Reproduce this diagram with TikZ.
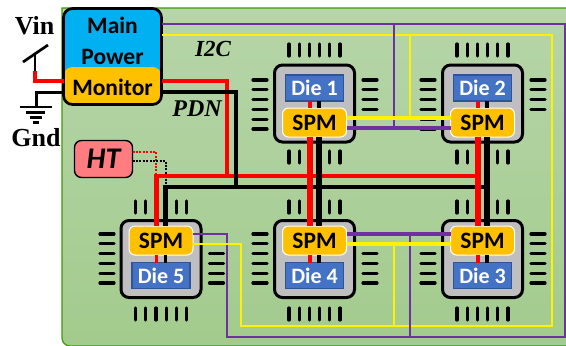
\documentclass[tikz,border=0pt]{standalone}
\usepackage{fontspec}
\setmainfont{Liberation Serif}
\newfontfamily\calibri{Carlito}
\tikzset{
  board/.style={draw=green!45!black!70!lime,line width=1.2pt,top color=boardtop,bottom color=boardbot},
  pin/.style={line width=3.2pt,line cap=round},
  chip/.style={draw,line width=3pt,fill=chipgray,rounded corners=8pt,minimum width=80pt,minimum height=77pt,inner sep=0pt,outer sep=0pt},
  dienode/.style={draw=dieedge,line width=1.4pt,fill=dieblue,text=white,minimum width=58pt,minimum height=26pt,inner sep=0pt,outer sep=0pt,font=\calibri\bfseries\fontsize{22}{24}\selectfont},
  spmnode/.style={draw=white,line width=1pt,fill=spmorange,rounded corners=6pt,minimum width=64pt,minimum height=29pt,inner sep=0pt,outer sep=0pt,font=\calibri\bfseries\fontsize{23.5}{26}\selectfont},
  vddfat/.style={red,line width=5.4pt},
  gndfat/.style={black,line width=5.4pt},
  vddthin/.style={red,line width=3.2pt},
  gndthin/.style={black,line width=3.2pt},
  vddbus/.style={red,line width=3.8pt},
  gndbus/.style={black,line width=3.8pt},
  sda/.style={draw=sdapurple,line width=2.7pt},
  scl/.style={draw=yellow,line width=2.7pt},
  sdafat/.style={sda,line width=4.2pt},
  sclfat/.style={scl,line width=4.2pt},
  probe/.style={line width=1.6pt,dash pattern=on 2pt off 1.4pt},
  pics/vpins/.style={
    code={
      \foreach \k in {#1} {
        \draw[pin] (10.2*\k-25.5,0) -- +(0,12);
      }
    }
  },
  pics/hpins/.style={
    code={
      \foreach \k in {#1} {
        \draw[pin] (0,9.8*\k) -- +(14,0);
      }
    }
  },
}
\definecolor{boardtop}{HTML}{B6D5A9}
\definecolor{boardbot}{HTML}{A3CB8D}
\definecolor{chipgray}{HTML}{BFBFBF}
\definecolor{dieblue}{HTML}{4472C4}
\definecolor{dieedge}{HTML}{2F5597}
\definecolor{spmorange}{HTML}{FFC000}
\definecolor{mainblue}{HTML}{00B0F0}
\definecolor{htpink}{HTML}{FF7C80}
\definecolor{sdapurple}{HTML}{7030A0}
\begin{document}
\begin{tikzpicture}[x=1pt,y=-1pt]
\useasboundingbox (0,0) rectangle (566,346);
\draw[board] (566,8) -- (62,8) [rounded corners=8pt] -- (62,346) [sharp corners] -- (566,346);
% chips
\foreach \k/\cx/\cy/\spmy/\diey in {1/314.5/103.5/122.5/88,2/482.5/103.5/122.5/88,3/482.5/259/240.5/275.5,4/314.5/259/240.5/275.5,5/161/259/240.5/275.5} {
  \node[chip] (chip\k) at (\cx,\cy) {};
  \node[dienode] (die\k) at (\cx,\diey) {Die \k};
  \node[spmnode] (spm\k) at (\cx,\spmy) {SPM};
  \coordinate (vdd\k) at ([xshift=-4.5pt]spm\k.north);
  \coordinate (gnd\k) at ([xshift=4.5pt]spm\k.north);
}
% pins
\foreach \cx in {314.5,482.5} {
  \pic at (\cx,44) {vpins={0,...,5}};
  \pic at (\cx,151) {vpins={0,1,4,5}};
  \pic at (\cx-61.5,80) {hpins={0,...,5}};
  \pic at (\cx+48.5,80) {hpins={0,1,2,3}};
}
\pic at (161,201) {vpins={0,1,4,5}};
\pic at (161,308) {vpins={0,...,5}};
\pic at (100,234) {hpins={0,...,5}};
\pic at (209.5,234) {hpins={2,3,4,5}};
\pic at (314.5,201) {vpins={0,1,4,5}};
\pic at (314.5,308) {vpins={0,...,5}};
\pic at (253,234) {hpins={0,...,5}};
\pic at (363,234) {hpins={2,3,4,5}};
\pic at (482.5,201) {vpins={0,1,4,5}};
\pic at (482.5,308) {vpins={0,...,5}};
\pic at (421,234) {hpins={2,3,4,5}};
\pic at (531,234) {hpins={0,...,5}};
% main box and labels
\node[draw,line width=2.7pt,rounded corners=9pt,fill=mainblue,minimum width=98pt,minimum height=96pt,inner sep=0pt,outer sep=0pt,align=center,font=\calibri\bfseries\fontsize{23.5}{31}\selectfont,
  path picture={\fill[spmorange] (path picture bounding box.south west) rectangle ([yshift=-10.5pt]path picture bounding box.east);}] (main) at (112.5,56.5) {Main\\Power\\Monitor};
\node[draw,line width=1.4pt,rounded corners=7pt,fill=htpink,minimum width=58pt,minimum height=37pt,inner sep=0pt,outer sep=0pt,font=\calibri\bfseries\itshape\fontsize{30}{32}\selectfont] (ht) at (103.5,159) {HT};
\node[font=\bfseries\fontsize{26}{28}\selectfont] (vin) at (34.5,26) {Vin};
\node[font=\bfseries\fontsize{26}{28}\selectfont] (gndlabel) at (36,138) {Gnd};
\node[font=\bfseries\itshape\fontsize{23}{26}\selectfont] (i2c) at (213,49) {I2C};
\node[font=\bfseries\itshape\fontsize{24}{26}\selectfont] (pdn) at (197,109) {PDN};
% bus levels
\coordinate (vddrail) at (0,176);
\coordinate (gndrail) at (0,187);
\coordinate (vddin) at (35,71);
\coordinate (gndin) at (36,107);
\coordinate (vddtap) at (227,81);
\coordinate (gndtap) at (236,92);
% HT probes
\draw[probe,red] (ht.east |- 0,152) -| (156,176);
\draw[probe] (ht.east |- 0,161) -| (166,187);
% I2C
\coordinate (sdaend) at (565,337);
\coordinate (sdacorner) at (227,337);
\coordinate (sclend) at (552,326);
\coordinate (sclcorner) at (241,326);
\coordinate (sdaup) at (394,24);
\coordinate (sclup) at (410,35);
\coordinate (sda12) at ([yshift=-5.5pt]spm1.east);
\coordinate (scl12) at ([yshift=4.5pt]spm1.east);
\coordinate (sda43) at ([yshift=6.5pt]spm4.east);
\coordinate (scl43) at ([yshift=-3.5pt]spm4.east);
\draw[sda] (main.east |- sdaup) -| (sdaend) -- (sdacorner) |- ([yshift=6.5pt]spm5.east);
\draw[scl] (main.east |- sclup) -| (sclend) -- (sclcorner) |- ([yshift=-3.5pt]spm5.east);
\draw[sda] (sdaup) -- (sdaup |- sda12);
\draw[scl] (sclup) -- (sclup |- scl12);
\draw[sda] (sclup |- sda43) -- (sclup |- sdaend);
\draw[scl] (sdaup |- scl43) -- (sdaup |- sclend);
\draw[sdafat] (sda12) -- (sda12 -| spm2.west);
\draw[sclfat] (scl12) -- (scl12 -| spm2.west);
\draw[sdafat] (sda43) -- (sda43 -| spm3.west);
\draw[sclfat] (scl43) -- (scl43 -| spm3.west);
% power
\draw[line width=2.7pt] (23,62) -- (48,45);
\draw[line width=2.7pt] (35,55) -- (vddin);
\draw[vddthin] (vddin) |- (main.west |- vddtap);
\draw[line width=3pt] (main.west |- gndtap) -| (gndin);
\draw[line width=2.6pt] (20,107) -- (52,107) (26,112.5) -- (45,112.5) (29.5,117.5) -- (42,117.5) (33,122.5) -- (39,122.5);
\draw[gndbus] (gnd5 |- gndrail) -- (gnd2 |- gndrail);
\draw[vddbus] (main.east |- vddtap) -| (vddtap |- vddrail);
\draw[vddbus] (vdd5 |- vddrail) -- (vdd2 |- vddrail);
\draw[vddfat] (vdd5) -- ([yshift=2pt]vdd5 |- vddrail);
\draw[vddfat] (vdd1 |- spm1.south) -- (vdd4);
\draw[vddfat] (vdd2 |- spm2.south) -- (vdd3);
\draw[gndbus] (main.east |- gndtap) -| (gndtap |- gndrail);
\draw[gndfat] (gnd5) -- ([yshift=2pt]gnd5 |- gndrail);
\draw[gndfat] (gnd1 |- spm1.south) -- (gnd4);
\draw[gndfat] (gnd2 |- spm2.south) -- (gnd3);
\foreach \k in {1,2} {
  \draw[vddthin] (vdd\k) -- (vdd\k |- die\k.south);
  \draw[gndthin] (gnd\k) -- (gnd\k |- die\k.south);
}
\foreach \k in {3,4,5} {
  \draw[vddthin] (vdd\k |- spm\k.south) -- (vdd\k |- die\k.north);
  \draw[gndthin] (gnd\k |- spm\k.south) -- (gnd\k |- die\k.north);
}
\end{tikzpicture}
\end{document}
